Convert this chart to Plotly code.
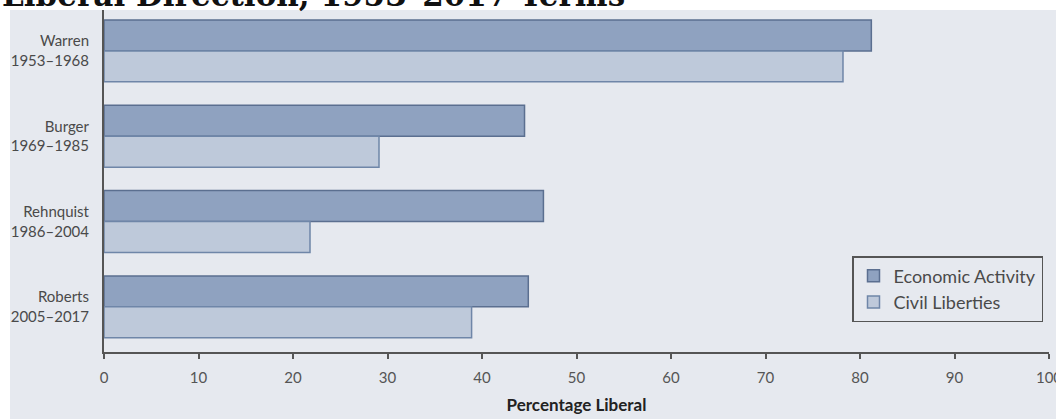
import plotly.graph_objects as go

categories = ["Warren<br>1953–1968", "Burger<br>1969–1985", "Rehnquist<br>1986–2004", "Roberts<br>2005–2017"]
economic = [81.2, 44.5, 46.5, 44.9]
civil = [78.2, 29.1, 21.8, 38.9]
series_names = ["Economic Activity", "Civil Liberties"]
x_ticks = list(range(0, 101, 10))
title_text = "Liberal Direction, 1953–2017 Terms"

W, H = 1056, 419
L, R, T, B = 104, 7, 10, 67
pw, ph = W - L - R, H - T - B

bg = "#e6e9ef"
fig = go.Figure()
fig.add_trace(go.Bar(
    y=categories, x=economic, orientation="h", name=series_names[0],
    legendgroup="a",
    marker=dict(color="#8fa2c0", line=dict(color="#5b6f90", width=1.5)),
))
fig.add_trace(go.Bar(
    y=categories, x=civil, orientation="h", name=series_names[1],
    legendgroup="b",
    marker=dict(color="#bec9da", line=dict(color="#6f86a8", width=1.5)),
))

fig.update_layout(
    width=W, height=H,
    margin=dict(l=L, r=R, t=T, b=B, autoexpand=False),
    paper_bgcolor="white",
    plot_bgcolor="rgba(0,0,0,0)",
    barmode="group", bargap=0.275, bargroupgap=0,
    font=dict(family="Lato, Open Sans, sans-serif", size=15, color="#4a4a4a"),
    showlegend=True,
    legend=dict(
        x=(1043 - L) / pw, xanchor="right",
        y=(352 - 256) / ph, yanchor="top",
        bgcolor="rgba(0,0,0,0)", bordercolor="#555555", borderwidth=1.5,
        font=dict(size=18, color="#4a4a4a"), traceorder="normal",
        tracegroupgap=3,
    ),
    xaxis=dict(
        range=[0, 100], tickvals=x_ticks, showgrid=False, zeroline=False,
        showline=True, linecolor="#555555", linewidth=2,
        ticks="outside", ticklen=5, tickwidth=1.5, tickcolor="#555555",
        ticklabelstandoff=6, ticklabeloverflow="allow", automargin=False,
        tickfont=dict(size=15, color="#555555"),
        title=dict(text="<b>Percentage Liberal</b>", font=dict(size=17, color="#222222"), standoff=14),
    ),
    yaxis=dict(
        range=[3.53, -0.48], showgrid=False, zeroline=False, automargin=False,
        showline=True, linecolor="#555555", linewidth=2,
        ticks="outside", ticklen=10, tickcolor="rgba(0,0,0,0)",
        tickfont=dict(size=15, color="#4a4a4a"),
    ),
    shapes=[dict(
        type="rect", xref="paper", yref="paper", layer="below",
        x0=(10 - L) / pw, x1=(W - L) / pw + 0.01,
        y0=-(H - 352) / ph - 0.01, y1=(352 - 10) / ph,
        fillcolor=bg, line=dict(width=0),
    )],
    annotations=[dict(
        text="<b>" + title_text + "</b>", xref="paper", yref="paper",
        x=(0 - L) / pw, xanchor="left", y=(352 - 15) / ph, yanchor="bottom",
        showarrow=False, font=dict(family="DejaVu Serif", size=31, color="#111111"),
    )],
)

fig.write_html("out.html")
